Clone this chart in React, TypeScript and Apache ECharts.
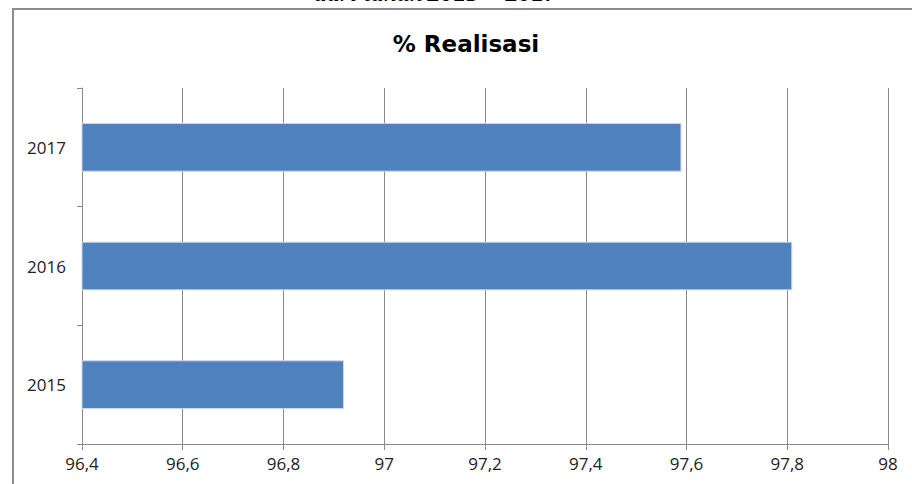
import React, { useEffect, useRef } from "react";
import * as echarts from "echarts";

const categories = ["2015", "2016", "2017"];
const realisasi = [96.92, 97.81, 97.59];
const xMin = 96.4;
const xMax = 98;
const xStep = 0.2;
const titleText = "% Realisasi";
const captionItalic = "dari tahun";
const captionBold = "2015 – 2017";

export default function App() {
  const ref = useRef<HTMLDivElement>(null);
  useEffect(() => {
    if (!ref.current) return;
    const chart = echarts.init(ref.current, null, { renderer: "svg" });
    const gray = "#8a8a8a";
    chart.setOption({
      animation: false,
      backgroundColor: "#ffffff",
      grid: { left: 82, right: 24, top: 88, bottom: 40, containLabel: false },
      xAxis: {
        type: "value",
        min: xMin,
        max: xMax,
        interval: xStep,
        axisLine: { show: true, lineStyle: { color: gray, width: 1 } },
        axisTick: { show: true, length: 6, inside: false, lineStyle: { color: gray } },
        splitLine: { show: true, lineStyle: { color: gray, width: 1 } },
        axisLabel: {
          margin: 11,
          color: "#222",
          fontFamily: "Open Sans",
          fontSize: 17,
          formatter: (v: number) => String(Math.round(v * 10) / 10).replace(".", ","),
        },
      },
      yAxis: {
        type: "category",
        data: categories,
        axisLine: { show: true, lineStyle: { color: gray, width: 1 } },
        axisTick: { show: true, length: 5, lineStyle: { color: gray } },
        splitLine: { show: false },
        axisLabel: {
          margin: 16,
          color: "#222",
          fontFamily: "Open Sans",
          fontSize: 17,
        },
      },
      series: [
        {
          type: "bar",
          data: realisasi,
          barCategoryGap: "59%",
          itemStyle: { color: "#4f81bd", borderColor: "#c8d7ec", borderWidth: 1 },
        },
      ],
      graphic: [
        {
          type: "line",
          shape: { x1: 13, y1: 9, x2: 13, y2: 490 },
          style: { stroke: "#8c8c8c", lineWidth: 2 },
        },
        {
          type: "line",
          shape: { x1: 12, y1: 9, x2: 912, y2: 9 },
          style: { stroke: "#8c8c8c", lineWidth: 2 },
        },
        {
          type: "text",
          x: 466,
          y: 44,
          style: {
            text: titleText,
            fontFamily: "DejaVu Sans",
            fontSize: 23,
            fontWeight: "bold",
            fill: "#000",
            textAlign: "center",
            textVerticalAlign: "middle",
          },
        },
        {
          type: "text",
          x: 435,
          y: -8,
          style: {
            text: "{a|" + captionItalic + "} {b|" + captionBold + "}",
            textAlign: "center",
            textVerticalAlign: "middle",
            rich: {
              a: { fontFamily: "Liberation Serif", fontStyle: "italic", fontSize: 26, fill: "#000" },
              b: { fontFamily: "Liberation Serif", fontWeight: "bold", fontSize: 26, fill: "#000" },
            },
          },
        },
      ],
    });
    return () => chart.dispose();
  }, []);
  return (
    <div
      ref={ref}
      style={{ position: "absolute", left: 0, top: 0, width: 912, height: 484 }}
    />
  );
}
